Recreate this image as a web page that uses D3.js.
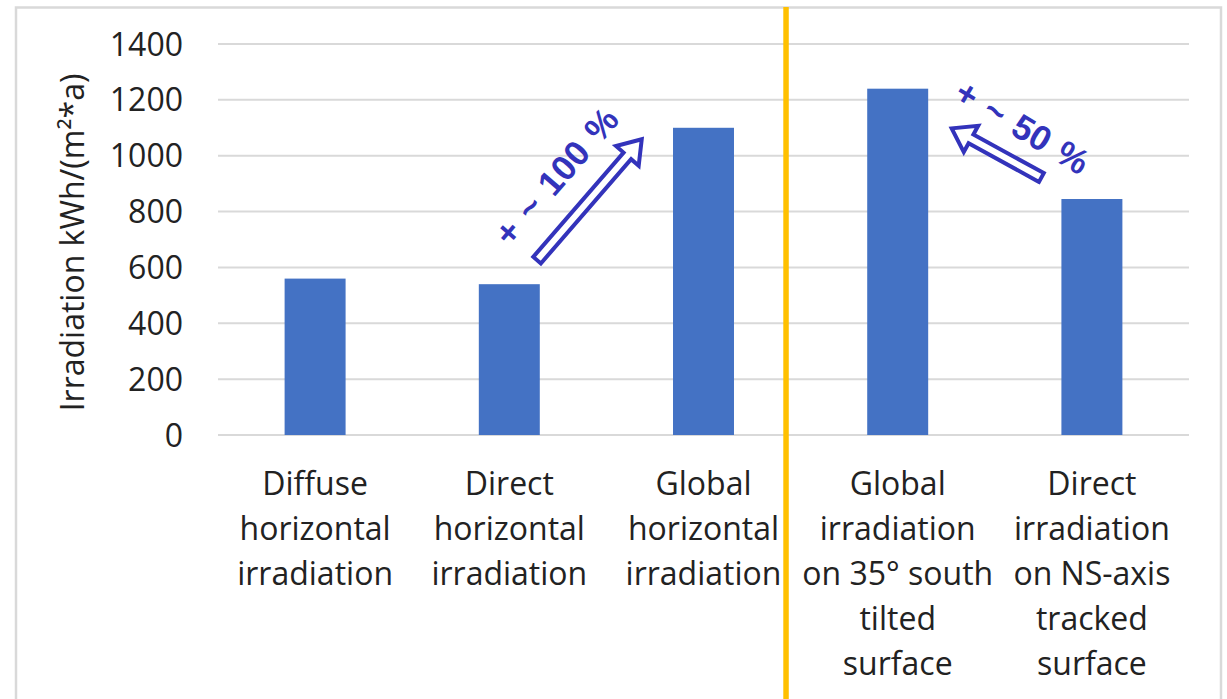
<!DOCTYPE html>
<html>
<head>
  <meta charset='utf-8'>
  <title>Irradiation</title>
  <script src='https://cdn.jsdelivr.net/npm/d3@7/dist/d3.min.js'></script>
  <style type='text/css'>
    html, body { margin: 0; padding: 0; background: #fff; }
    svg { display: block; }
    text { font-family: 'Open Sans', sans-serif; fill: #222; }
  </style>
</head>
<body>
  <div id='plot-container'></div>
  <script>
    // chart data
    const categories = [
        'Diffuse horizontal irradiation',
        'Direct horizontal irradiation',
        'Global horizontal irradiation',
        'Global irradiation on 35° south tilted surface',
        'Direct irradiation on NS-axis tracked surface'
    ];
    const categoryLines = [
        ['Diffuse', 'horizontal', 'irradiation'],
        ['Direct', 'horizontal', 'irradiation'],
        ['Global', 'horizontal', 'irradiation'],
        ['Global', 'irradiation', 'on 35° south', 'tilted', 'surface'],
        ['Direct', 'irradiation', 'on NS-axis', 'tracked', 'surface']
    ];
    const values = [560, 540, 1100, 1240, 845];
    const yTicks = [0, 200, 400, 600, 800, 1000, 1200, 1400];
    const yTitle = 'Irradiation kWh/(m²*a)';

    // annotations: anchor category index, offset in band steps, value
    const arrows = [
        { from: [1, 0.143, 626], to: [2, -0.318, 1059] },
        { from: [4, -0.26, 922], to: [3, 0.278, 1098] }
    ];
    const arrowLabels = [
        { text: '+ ~ 100 %', at: [1, 0.24, 927], angle: -49 },
        { text: '+ ~ 50 %', at: [3, 0.643, 1104], angle: 31 }
    ];
    // separator between horizontal and tilted/tracked groups
    const separator = [2, 0.425];

    const W = 1227, H = 699;
    const margin = { top: 44, right: 38, bottom: 264, left: 218 };
    const width = W - margin.left - margin.right;
    const height = H - margin.top - margin.bottom;

    const svg = d3.select('#plot-container').append('svg')
        .attr('width', W)
        .attr('height', H);

    // outer chart frame (bottom edge runs off the picture)
    svg.append('rect')
        .attr('x', 16).attr('y', 7.5)
        .attr('width', 1205).attr('height', 720)
        .attr('fill', 'none')
        .attr('stroke', '#d9d9d9')
        .attr('stroke-width', 2.5);

    const g = svg.append('g')
        .attr('transform', `translate(${margin.left}, ${margin.top})`);

    const x = d3.scaleBand()
        .domain(categories)
        .range([0, width])
        .paddingInner(0.686)
        .paddingOuter(0.343);
    const y = d3.scaleLinear()
        .domain([0, 1400])
        .range([height, 0]);

    // position helper for annotations
    const step = width / categories.length;
    const px = (i, off) => step * (i + 0.5 + off);

    // gridlines
    g.append('g')
        .selectAll('line')
        .data(yTicks)
        .join('line')
        .attr('x1', 0).attr('x2', width)
        .attr('y1', d => y(d)).attr('y2', d => y(d))
        .attr('stroke', '#d9d9d9')
        .attr('stroke-width', 2);

    // y tick labels
    g.append('g')
        .selectAll('text')
        .data(yTicks)
        .join('text')
        .attr('x', -35)
        .attr('y', d => y(d))
        .attr('dy', '0.36em')
        .attr('text-anchor', 'end')
        .style('font-size', '32px')
        .text(d => d);

    // y title
    g.append('text')
        .attr('transform', `translate(${72 - margin.left}, ${y(700) + 3}) rotate(-90)`)
        .attr('text-anchor', 'middle')
        .attr('dy', '0.36em')
        .style('font-size', '32px')
        .text(yTitle);

    // bars
    g.append('g')
        .selectAll('rect')
        .data(values)
        .join('rect')
        .attr('x', (d, i) => x(categories[i]))
        .attr('y', d => y(d))
        .attr('width', x.bandwidth())
        .attr('height', d => y(0) - y(d))
        .attr('fill', '#4472c4');

    // category labels
    const labels = g.append('g')
        .selectAll('text')
        .data(categoryLines)
        .join('text')
        .attr('text-anchor', 'middle')
        .style('font-size', '32px')
        .attr('transform', (d, i) =>
            `translate(${x(categories[i]) + x.bandwidth() / 2}, 0)`);
    labels.selectAll('tspan')
        .data(d => d)
        .join('tspan')
        .attr('x', 0)
        .attr('y', (d, j) => height + 48 + 45 * j)
        .attr('dy', '0.36em')
        .text(d => d);

    // orange separator
    g.append('line')
        .attr('x1', px(separator[0], separator[1]))
        .attr('x2', px(separator[0], separator[1]))
        .attr('y1', 7 - margin.top)
        .attr('y2', H)
        .attr('stroke', '#ffc000')
        .attr('stroke-width', 5.5);

    // hollow arrows
    const shaftHalf = 5, headHalf = 15, headLen = 22;
    arrows.forEach(a => {
        const x0 = px(a.from[0], a.from[1]), y0 = y(a.from[2]);
        const x1 = px(a.to[0], a.to[1]), y1 = y(a.to[2]);
        const len = Math.hypot(x1 - x0, y1 - y0);
        const ang = Math.atan2(y1 - y0, x1 - x0) * 180 / Math.PI;
        const pts = [
            [0, -shaftHalf], [len - headLen, -shaftHalf], [len - headLen, -headHalf],
            [len, 0],
            [len - headLen, headHalf], [len - headLen, shaftHalf], [0, shaftHalf]
        ];
        g.append('polygon')
            .attr('transform', `translate(${x0}, ${y0}) rotate(${ang})`)
            .attr('points', pts.map(p => p.join(',')).join(' '))
            .attr('fill', '#fff')
            .attr('stroke', '#3333bb')
            .attr('stroke-width', 4)
            .attr('stroke-linejoin', 'miter');
    });

    // arrow labels
    g.append('g')
        .selectAll('text')
        .data(arrowLabels)
        .join('text')
        .attr('transform', d =>
            `translate(${px(d.at[0], d.at[1])}, ${y(d.at[2])}) rotate(${d.angle})`)
        .attr('text-anchor', 'middle')
        .attr('dy', '0.36em')
        .style('font-family', "'Liberation Sans', Arial, sans-serif")
        .style('font-weight', 'bold')
        .style('font-size', '35px')
        .style('word-spacing', '3px')
        .style('fill', '#3333bb')
        .text(d => d.text);
  </script>
</body>
</html>
